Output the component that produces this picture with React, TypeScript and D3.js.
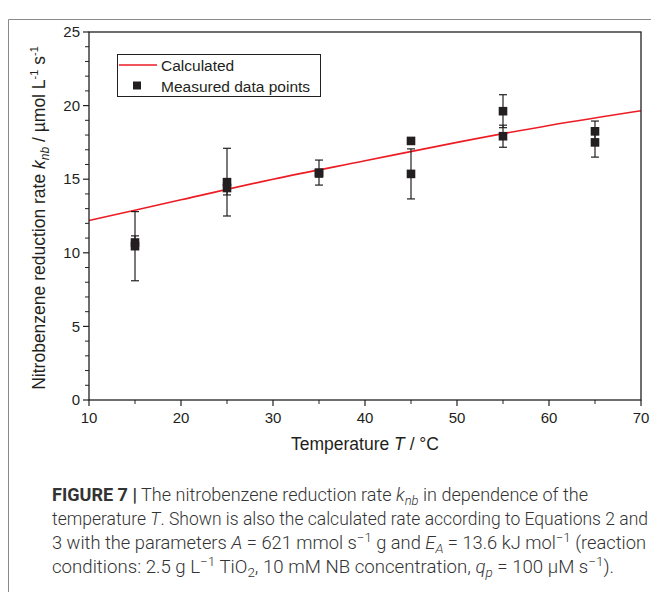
import React from 'react'
import * as d3 from 'd3'

// measured points (two per temperature), with their error bars
const temps = [15, 15, 25, 25, 35, 35, 45, 45, 55, 55, 65, 65]
const rates = [10.45, 10.7, 14.8, 14.4, 15.45, 15.4, 15.36, 17.6, 19.62, 17.92, 18.25, 17.5]
const errors = [2.35, 0.45, 2.3, 0.47, 0.85, 0.25, 1.7, 0.2, 1.12, 0.75, 0.7, 1.0]

// calculated rate curve
const calcT = [10, 20, 30, 40, 50, 60, 70]
const calcK = [12.2, 13.6, 15.0, 16.25, 17.5, 18.65, 19.65]

const xTicks = [10, 20, 30, 40, 50, 60, 70]
const yTicks = [0, 5, 10, 15, 20, 25]

const W = 651
const H = 592
const plot = { left: 89, right: 641, top: 32, bottom: 400 }
const font = '"Liberation Sans", Arial, sans-serif'
const capFont = 'Roboto, "Liberation Sans", sans-serif'
const ink = '#231f20'
const red = '#ed1c24'

export default function App() {
  const x = d3.scaleLinear().domain([10, 70]).range([plot.left, plot.right])
  const y = d3.scaleLinear().domain([0, 25]).range([plot.bottom, plot.top])

  const line = d3.line<number>()
    .x((_, i) => x(calcT[i]))
    .y(d => y(d))
    .curve(d3.curveMonotoneX)

  const yMinor = d3.range(0, 26, 1).filter(v => v % 5 !== 0)
  const xMinor = d3.range(15, 70, 10)
  const sq = 8.6
  const cap = 4

  return (
    <svg width={W} height={H} style={{ position: 'absolute', left: 0, top: 0, display: 'block' }}
      fontFamily={font}>
      <rect x={0} y={0} width={W} height={H} fill='white' />
      {/* figure frame */}
      <path d={`M8.5,${H} V19.5 H${W}`} fill='none' stroke='#8a8a8a' strokeWidth={1} />

      <path d={line(calcK) || ''} fill='none' stroke={red} strokeWidth={1.6} />

      {/* error bars */}
      {rates.map((r, i) => {
        const cx = x(temps[i])
        const y0 = y(r - errors[i])
        const y1 = y(r + errors[i])
        return (
          <g key={'e' + i} stroke={ink} strokeWidth={1.2}>
            <line x1={cx} x2={cx} y1={y0} y2={y1} />
            <line x1={cx - cap} x2={cx + cap} y1={y0} y2={y0} />
            <line x1={cx - cap} x2={cx + cap} y1={y1} y2={y1} />
          </g>
        )
      })}
      {rates.map((r, i) => (
        <rect key={'p' + i} x={x(temps[i]) - sq / 2} y={y(r) - sq / 2} width={sq} height={sq} fill={ink} />
      ))}

      {/* axes box */}
      <rect x={plot.left} y={plot.top} width={plot.right - plot.left} height={plot.bottom - plot.top}
        fill='none' stroke={ink} strokeWidth={1.3} />

      {/* y ticks */}
      {yTicks.map(t => (
        <g key={'yt' + t}>
          <line x1={plot.left - 6} x2={plot.left} y1={y(t)} y2={y(t)} stroke={ink} strokeWidth={1.2} />
          <text x={plot.left - 9} y={y(t)} dy='0.35em' textAnchor='end' fontSize={15} fill={ink}>{t}</text>
        </g>
      ))}
      {yMinor.map(t => (
        <line key={'ym' + t} x1={plot.left - 4} x2={plot.left} y1={y(t)} y2={y(t)} stroke={ink} strokeWidth={1} />
      ))}

      {/* x ticks */}
      {xTicks.map(t => (
        <g key={'xt' + t}>
          <line x1={x(t)} x2={x(t)} y1={plot.bottom} y2={plot.bottom + 6} stroke={ink} strokeWidth={1.2} />
          <text x={x(t)} y={plot.bottom + 23} textAnchor='middle' fontSize={15} fill={ink}>{t}</text>
        </g>
      ))}
      {xMinor.map(t => (
        <line key={'xm' + t} x1={x(t)} x2={x(t)} y1={plot.bottom} y2={plot.bottom + 4} stroke={ink} strokeWidth={1} />
      ))}

      {/* axis titles */}
      <text x={365} y={450} textAnchor='middle' fontSize={17.5} fill={ink}>
        Temperature <tspan fontStyle='italic'>T</tspan> / °C
      </text>
      <text transform='translate(45,218) rotate(-90)' textAnchor='middle' fontSize={17.5} fill={ink}>
        Nitrobenzene reduction rate  <tspan fontStyle='italic'>k</tspan>
        <tspan fontStyle='italic' fontSize={12} dy={4}>nb</tspan>
        <tspan dy={-4}> / µmol L</tspan>
        <tspan fontSize={11} dy={-7}>-1</tspan>
        <tspan dy={7}> s</tspan>
        <tspan fontSize={11} dy={-7}>-1</tspan>
      </text>

      {/* legend */}
      <rect x={117.5} y={54.5} width={203} height={42} fill='white' stroke={ink} strokeWidth={1} />
      <line x1={119} x2={157} y1={65} y2={65} stroke={red} strokeWidth={1.3} />
      <text x={161} y={70.5} fontSize={15.5} fill={ink}>Calculated</text>
      <rect x={137 - 4} y={85.5 - 4} width={8} height={8} fill={ink} />
      <text x={161} y={91.5} fontSize={15.5} fill={ink}>Measured data points</text>

      {/* caption */}
      <g fontFamily={capFont} fontSize={18} fill='#333' fontWeight={300}>
        <text x={52} y={501} textLength={536} lengthAdjust='spacingAndGlyphs'>
          <tspan fontWeight={700}>FIGURE 7 |</tspan> The nitrobenzene reduction rate <tspan fontStyle='italic'>k</tspan><tspan fontStyle='italic' fontSize={13} dy={4}>nb</tspan><tspan dy={-4}> in dependence of the</tspan>
        </text>
        <text x={52} y={525} textLength={596} lengthAdjust='spacingAndGlyphs'>
          temperature <tspan fontStyle='italic'>T</tspan>. Shown is also the calculated rate according to Equations 2 and
        </text>
        <text x={52} y={549} textLength={594} lengthAdjust='spacingAndGlyphs'>
          3 with the parameters <tspan fontStyle='italic'>A</tspan> = 621 mmol s<tspan fontSize={13} dy={-7}>−1</tspan><tspan dy={7}> g and </tspan><tspan fontStyle='italic'>E</tspan><tspan fontStyle='italic' fontSize={13} dy={4}>A</tspan><tspan dy={-4}> = 13.6 kJ mol</tspan><tspan fontSize={13} dy={-7}>−1</tspan><tspan dy={7}> (reaction</tspan>
        </text>
        <text x={52} y={573} textLength={562} lengthAdjust='spacingAndGlyphs'>
          conditions: 2.5 g L<tspan fontSize={13} dy={-7}>−1</tspan><tspan dy={7}> TiO</tspan><tspan fontSize={13} dy={4}>2</tspan><tspan dy={-4}>, 10 mM NB concentration, </tspan><tspan fontStyle='italic'>q</tspan><tspan fontStyle='italic' fontSize={13} dy={4}>p</tspan><tspan dy={-4}> = 100 µM s</tspan><tspan fontSize={13} dy={-7}>−1</tspan><tspan dy={7}>).</tspan>
        </text>
      </g>
    </svg>
  )
}
